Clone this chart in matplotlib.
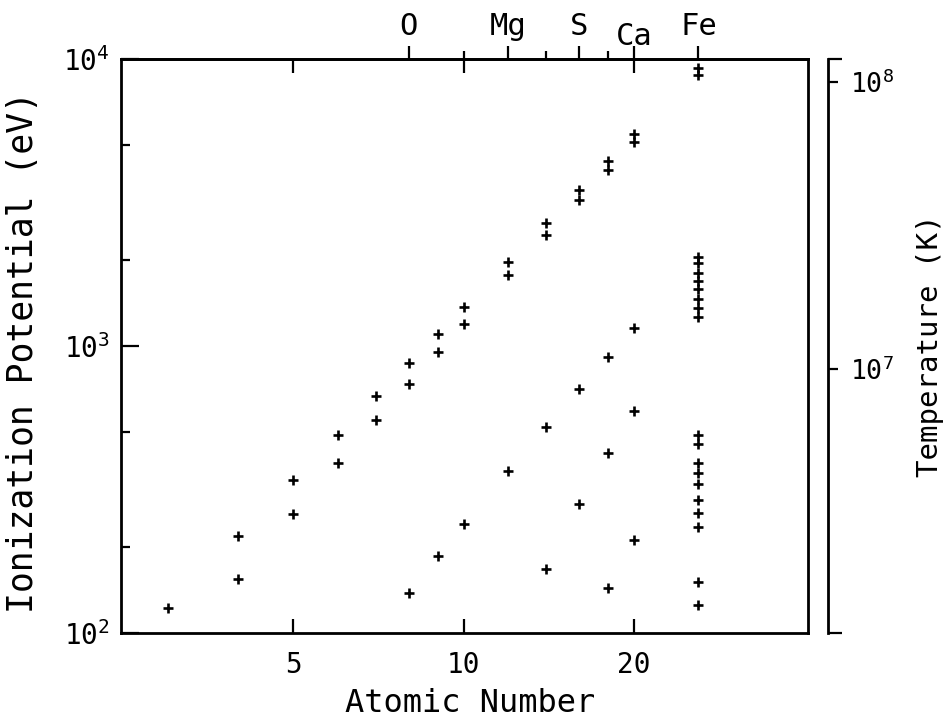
import matplotlib
matplotlib.use("Agg")
import matplotlib.pyplot as plt
from matplotlib import ticker

plt.rcParams['font.family'] = ['DejaVu Sans Mono', 'DejaVu Sans']
plt.rcParams['mathtext.default'] = 'regular'

# ionization potentials (eV) by isoelectronic sequence
h_z = [3, 4, 5, 6, 7, 8, 9, 10, 12, 14, 16, 18, 20, 26]
h_ip = [122.4, 217.7, 340.2, 490.0, 667.0, 871.4, 1103.1, 1362.2,
        1962.7, 2673.2, 3494.2, 4426.2, 5469.9, 9277.7]

he_z = [4, 5, 6, 7, 8, 9, 10, 12, 14, 16, 18, 20, 26]
he_ip = [153.9, 259.4, 392.1, 552.1, 739.3, 953.9, 1195.8, 1761.8,
         2437.6, 3224.0, 4120.9, 5128.9, 8828.0]

li_z = [8, 9, 10, 12, 14, 16, 18, 20]
li_ip = [138.1, 185.2, 239.1, 367.5, 523.4, 707.0, 918.0, 1157.8]

ne_z = [14, 16, 18, 20]
ne_ip = [166.8, 280.9, 422.4, 591.9]

na_z = [18, 20]
na_ip = [143.5, 211.3]

# the remaining iron ions, Fe XXIV down to Fe VII
fe_ip = [2046.0, 1950.0, 1799.0, 1689.0, 1582.0, 1456.0, 1358.0, 1262.0,
         489.3, 457.0, 392.0, 361.0, 330.8, 290.2, 262.1, 233.6, 151.1, 125.0]

elem_z = [8, 12, 16, 20, 26]
elem_names = ["O", "Mg", "S", "Ca", "Fe"]
elem_minor_z = [10, 14, 18]

x_ticks = [5, 10, 20]
T_PER_EV = 1.2e4

fig = plt.figure(figsize=(9.49, 7.19), dpi=100)
ax = fig.add_axes([0.1275, 0.1196, 0.7239, 0.7983])

mk = dict(ls="none", marker="+", ms=7, mew=1.9, color="black")
ax.plot(h_z, h_ip, **mk)
ax.plot(he_z, he_ip, **mk)
ax.plot(li_z, li_ip, **mk)
ax.plot(ne_z, ne_ip, **mk)
ax.plot(na_z, na_ip, **mk)
ax.plot([26] * len(fe_ip), fe_ip, **mk)

ax.set_xscale("log")
ax.set_yscale("log")
ax.set_xlim(2.48, 40.6)
ax.set_ylim(1e2, 1e4)

for sp in ax.spines.values():
    sp.set_linewidth(2.0)

ax.xaxis.set_major_locator(ticker.FixedLocator(x_ticks))
ax.xaxis.set_major_formatter(ticker.FixedFormatter([str(v) for v in x_ticks]))
ax.xaxis.set_minor_locator(ticker.NullLocator())
ax.yaxis.set_major_locator(ticker.FixedLocator([1e2, 1e3, 1e4]))
ax.yaxis.set_major_formatter(ticker.LogFormatterSciNotation())
ax.yaxis.set_minor_locator(ticker.FixedLocator([200, 500, 2000, 5000]))
ax.yaxis.set_minor_formatter(ticker.NullFormatter())

ax.tick_params(axis="x", which="major", direction="in", top=True, bottom=True,
               length=10, width=1.6, labelsize=20, pad=13)
ax.tick_params(axis="y", which="major", direction="in", left=True, right=True,
               length=13, width=1.6, labelsize=20, pad=8)
ax.tick_params(axis="y", which="minor", direction="in", left=True, right=True,
               length=6.5, width=1.6)

ax.set_xlabel("Atomic Number", fontsize=23)
ax.xaxis.set_label_coords(0.508, -0.095)
ax.set_ylabel("Ionization Potential (eV)", fontsize=25, va="center")
ax.yaxis.set_label_coords(-0.143, 0.49)

# element marks along the top edge
top = ax.secondary_xaxis("top")
top.xaxis.set_major_locator(ticker.FixedLocator(elem_z))
top.xaxis.set_minor_locator(ticker.FixedLocator(elem_minor_z))
top.xaxis.set_major_formatter(ticker.NullFormatter())
top.xaxis.set_minor_formatter(ticker.NullFormatter())
top.tick_params(which="major", direction="out", length=9.5, width=1.6)
top.tick_params(which="minor", direction="out", length=6, width=1.6)
top.spines["top"].set_linewidth(2.0)

for z, name in zip(elem_z, elem_names):
    dy = 10 if name == "Ca" else 17
    ax.annotate(name, xy=(z, 1.0), xycoords=("data", "axes fraction"),
                xytext=(0, dy), textcoords="offset points",
                ha="center", va="baseline", fontsize=22)

# temperature scale on a detached right axis
tax = ax.twinx()
tax.set_yscale("log")
tax.set_ylim(1e2 * T_PER_EV, 1e4 * T_PER_EV)
for side in ["left", "top", "bottom"]:
    tax.spines[side].set_visible(False)
tax.spines["right"].set_position(("outward", 14.4))
tax.spines["right"].set_linewidth(2.0)
tax.yaxis.set_major_locator(ticker.FixedLocator([1e7, 1e8]))
tax.yaxis.set_major_formatter(ticker.LogFormatterSciNotation())
tax.yaxis.set_minor_locator(ticker.FixedLocator([1e2 * T_PER_EV, 1e4 * T_PER_EV]))
tax.yaxis.set_minor_formatter(ticker.NullFormatter())
tax.tick_params(which="major", direction="out", length=7.5, width=1.6,
                labelsize=19, pad=8)
tax.tick_params(which="minor", direction="out", length=10, width=1.6)
tax.set_ylabel("Temperature (K)", fontsize=21, va="center")
tax.yaxis.set_label_coords(1.178, 0.5)

fig.savefig("out.png", dpi=100)
